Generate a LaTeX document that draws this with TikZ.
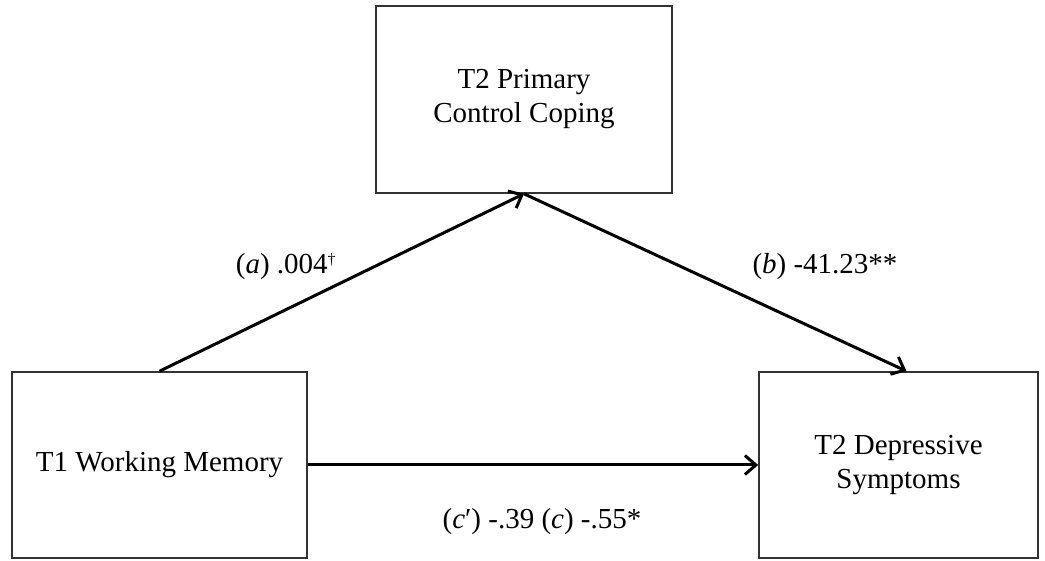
\documentclass[tikz,border=0pt]{standalone}
\usepackage{fontspec}
\setmainfont{Liberation Serif}
\usepackage{tikz}
\usetikzlibrary{arrows.meta}
\definecolor{boxgray}{RGB}{50,50,50}

\begin{document}
\begin{tikzpicture}[x=1pt,y=1pt,
        varbox/.style={draw=boxgray, line width=1.6pt, align=center, inner sep=0pt,
            font=\fontsize{29}{34}\selectfont},
        path/.style={line width=3pt, -{Straight Barb[length=11pt,width=19pt,line width=3pt]}},
        coef/.style={font=\fontsize{29}{34}\selectfont}]
        \useasboundingbox (0,0) rectangle (1045,561);
        % Variables
        \node[varbox, minimum width=296, minimum height=187] (pcc) at (524,461.5) {T2 Primary\\Control Coping};
        \node[varbox, minimum width=295, minimum height=186] (wm) at (159.5,96) {T1 Working Memory};
        \node[varbox, minimum width=279, minimum height=186] (dep) at (898.5,96) {T2 Depressive\\Symptoms};
        % Paths
        \draw[path] (wm.north) -- (pcc.south);
        \draw[path] (pcc.south) -- ([xshift=8]dep.north);
        \draw[path] (wm.east) -- (dep.west);
        % Coefficients
        \node[coef] (alab) at (286,294) {(\textit{a}) .004\textsuperscript{\fontsize{16}{16}\selectfont †}};
        \node[coef] (blab) at (825,294) {(\textit{b}) -41.23**};
        \node[coef] (clab) at (542,39) {(\textit{c}′) -.39 (\textit{c}) -.55*};
    \end{tikzpicture}
\end{document}
